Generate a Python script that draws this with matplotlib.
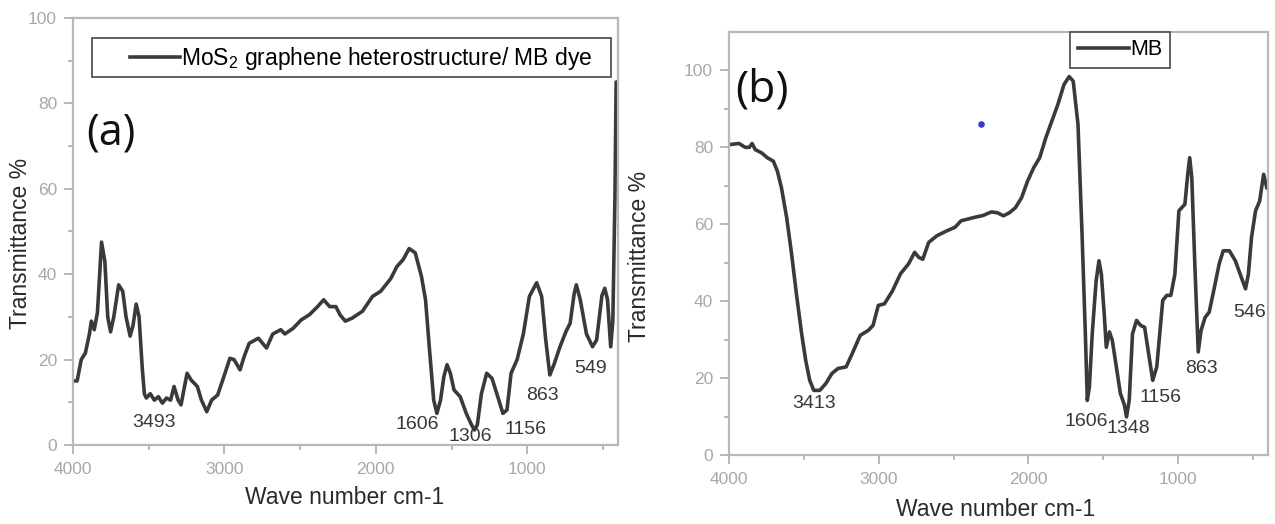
import matplotlib
matplotlib.use('Agg')
import matplotlib.pyplot as plt
from matplotlib.patches import Rectangle
import numpy as np

plt.rcParams['font.family'] = ['Liberation Sans', 'DejaVu Sans']
plt.rcParams['mathtext.fontset'] = 'custom'
plt.rcParams['mathtext.rm'] = 'Liberation Sans'
plt.rcParams['mathtext.default'] = 'regular'

# panel (a): MoS2 graphene heterostructure / MB dye
wn_a = [4000, 3973, 3946, 3919, 3892, 3879, 3860, 3839, 3812, 3790, 3771, 3752, 3731, 3699, 3672,
        3650, 3623, 3604, 3583, 3564, 3543, 3529, 3516, 3490, 3463, 3436, 3410, 3383, 3356, 3333,
        3306, 3287, 3247, 3220, 3179, 3152, 3117, 3085, 3045, 3004, 2964, 2937, 2897, 2870, 2837,
        2776, 2722, 2681, 2628, 2601, 2547, 2493, 2439, 2385, 2345, 2305, 2264, 2237, 2202, 2157,
        2089, 2022, 1968, 1901, 1861, 1820, 1780, 1740, 1699, 1672, 1645, 1618, 1597, 1573, 1551,
        1530, 1508, 1484, 1443, 1403, 1368, 1349, 1330, 1303, 1268, 1233, 1201, 1161, 1134, 1107,
        1067, 1026, 986, 938, 905, 878, 851, 824, 784, 744, 717, 690, 676, 650, 609,
        569, 542, 507, 488, 470, 449, 435, 421, 413, 402]
t_a = [15, 15, 20, 21.5, 26, 29, 27, 31, 47.5, 43, 30, 26.5, 30, 37.5, 36,
       30, 25.5, 28, 33, 30, 18, 12, 11, 12, 10.5, 11.3, 9.8, 11, 10.5, 13.7,
       10.5, 9.4, 16.8, 15.2, 13.7, 10.5, 7.8, 10.5, 11.7, 16, 20.3, 20, 17.6, 20.7, 23.8,
       25, 22.7, 26, 27, 26, 27.3, 29.3, 30.5, 32.4, 34, 32.4, 32.4, 30.5, 29, 29.7,
       31.3, 34.8, 36, 39, 41.8, 43.4, 46, 45, 39.5, 34, 22, 10.5, 7.4, 10.5, 16,
       18.8, 16.8, 12.9, 11.3, 7.4, 4.7, 3.5, 4.7, 12, 16.8, 15.6, 12, 7.4, 8.2, 16.8,
       20, 26, 34.8, 38, 34.8, 24.6, 16.4, 18.8, 23, 26.6, 28.5, 35.5, 37.5, 34, 26,
       23, 24.6, 35, 36.7, 34, 23, 29, 58, 85, 85]
peaks_a = ['3493', '1606', '1306', '1156', '863', '549']
peak_x_a = [3467, 1728, 1376, 1015, 898, 582]
peak_y_a = [5.3, 4.8, 2.0, 3.6, 11.6, 18]

# panel (b): MB
wn_b = [4000, 3933, 3892, 3865, 3846, 3825, 3784, 3744, 3704, 3677, 3650, 3615, 3582, 3550, 3515,
        3488, 3461, 3434, 3394, 3353, 3313, 3272, 3218, 3178, 3124, 3070, 3038, 3003, 2962, 2908,
        2855, 2801, 2760, 2733, 2706, 2666, 2612, 2545, 2491, 2450, 2370, 2302, 2248, 2208, 2167,
        2127, 2087, 2046, 2006, 1965, 1925, 1884, 1844, 1804, 1763, 1728, 1701, 1669, 1642, 1620,
        1607, 1593, 1574, 1548, 1529, 1513, 1494, 1480, 1459, 1440, 1413, 1386, 1359, 1345, 1327,
        1305, 1278, 1251, 1224, 1197, 1170, 1143, 1103, 1076, 1049, 1022, 995, 955, 936, 923,
        909, 888, 866, 847, 820, 793, 753, 726, 699, 658, 618, 578, 550, 531, 510,
        483, 456, 429, 408]
t_b = [80.7, 81, 80, 80, 81, 79.4, 78.6, 77.3, 76.4, 73.8, 69.5, 61.7, 52.2, 41.9, 31.5,
       24.6, 19.4, 16.8, 16.8, 18.6, 21.2, 22.5, 22.9, 26.3, 31.1, 32.4, 33.7, 38.9, 39.3, 42.7,
       47.1, 49.7, 52.7, 51.4, 50.9, 55.3, 57, 58.3, 59.2, 60.9, 61.7, 62.3, 63.2, 63, 62.2,
       63, 64.3, 66.9, 71.2, 74.7, 77.3, 82.5, 86.8, 91.1, 96.3, 98.4, 97.2, 85.9, 57.4, 31.5,
       14.2, 17.7, 31.5, 45.3, 50.5, 47, 36.7, 28, 32, 29.8, 22.9, 16, 13, 9.9, 14.2,
       31.5, 35, 33.7, 33.2, 26.3, 19.4, 22.9, 40.2, 41.5, 41.5, 47, 63.5, 65.2, 73, 77.3,
       72.1, 48.8, 26.8, 32.4, 35.8, 37.1, 44.5, 49.7, 53.1, 53.1, 50.5, 46.2, 43.2, 47, 56.6,
       63.5, 66, 73, 69.5]
peaks_b = ['3413', '1606', '1348', '1156', '863', '546']
peak_x_b = [3434, 1615, 1332, 1116, 847, 523]
peak_y_b = [13.4, 8.6, 6.9, 15, 22.5, 37]
dot_x = [2316]
dot_y = [86.1]

line_c = '#3a3a3a'
axis_c = '#b8b8b8'
tick_c = '#a8a8a8'

fig = plt.figure(figsize=(12.75, 5.24), dpi=100)
ax1 = fig.add_axes([0.0573, 0.1508, 0.4275, 0.8149])
ax2 = fig.add_axes([0.5718, 0.1317, 0.4227, 0.8073])


def style(ax, ymax):
    ax.set_xlim(4000, 400)
    ax.set_ylim(0, ymax)
    ax.set_xticks([4000, 3000, 2000, 1000])
    ax.set_xticks([3500, 2500, 1500, 500], minor=True)
    ax.set_yticks(np.arange(0, 101, 20))
    ax.set_yticks(np.arange(10, ymax, 20), minor=True)
    for s in ax.spines.values():
        s.set_color(axis_c)
        s.set_linewidth(1.6)
    ax.tick_params(which='major', direction='out', length=6.5, width=1.4, color=axis_c,
                   labelcolor=tick_c, labelsize=12.5)
    ax.tick_params(which='minor', direction='out', length=3.5, width=1.4, color=axis_c)
    ax.tick_params(axis='x', pad=6)
    ax.tick_params(axis='y', pad=5)


style(ax1, 100)
style(ax2, 110)

ax1.plot(wn_a, t_a, color=line_c, lw=2.6,
         label='MoS$_2$ graphene heterostructure/ MB dye')
ax2.plot(wn_b, t_b, color=line_c, lw=2.6, label='MB')
ax2.scatter(dot_x, dot_y, s=14, color='#3a3ac8', zorder=5)

for lab, x, y in zip(peaks_a, peak_x_a, peak_y_a):
    ax1.text(x, y, lab, fontsize=14, color='#383838', ha='center', va='center')
for lab, x, y in zip(peaks_b, peak_x_b, peak_y_b):
    ax2.text(x, y, lab, fontsize=14, color='#383838', ha='center', va='center')

ax1.text(0.069, 0.73, '(a)', transform=ax1.transAxes, fontsize=31,
         family='Open Sans', ha='center', va='center', color='#111111')
ax2.text(0.062, 0.863, '(b)', transform=ax2.transAxes, fontsize=32,
         family='Open Sans', ha='center', va='center', color='#111111')

# legend (a): frame drawn as its own box, wider than the entry
ax1.add_patch(Rectangle((0.035, 0.862), 0.952, 0.09, transform=ax1.transAxes,
                        facecolor='white', edgecolor='#555555', lw=1.3, zorder=4))
leg1 = ax1.legend(loc='center left', bbox_to_anchor=(0.104, 0.906), borderaxespad=0,
                  fontsize=16.5, handlelength=2.2, handletextpad=0.05, borderpad=0,
                  frameon=False)
leg1.set_zorder(5)
leg2 = ax2.legend(loc='upper left', bbox_to_anchor=(0.633, 1.0), borderaxespad=0,
                  fontsize=15.5, handlelength=2.4, handletextpad=0.05, borderpad=0.35,
                  fancybox=False, framealpha=1)
leg2.get_frame().set_edgecolor('#555555')
leg2.get_frame().set_linewidth(1.3)

ax1.set_xlabel('Wave number cm-1', fontsize=16.5, color='#2a2a2a', va='center')
ax1.xaxis.set_label_coords(0.498, -0.122)
ax1.set_ylabel('Transmittance %', fontsize=16.5, color='#2a2a2a', va='center')
ax1.yaxis.set_label_coords(-0.097, 0.473)

ax2.set_xlabel('Wave number cm-1', fontsize=16.5, color='#2a2a2a', va='center')
ax2.xaxis.set_label_coords(0.495, -0.13)
ax2.set_ylabel('Transmittance %', fontsize=16.5, color='#2a2a2a', va='center')
ax2.yaxis.set_label_coords(-0.167, 0.47)

fig.savefig('out.png', dpi=100)
